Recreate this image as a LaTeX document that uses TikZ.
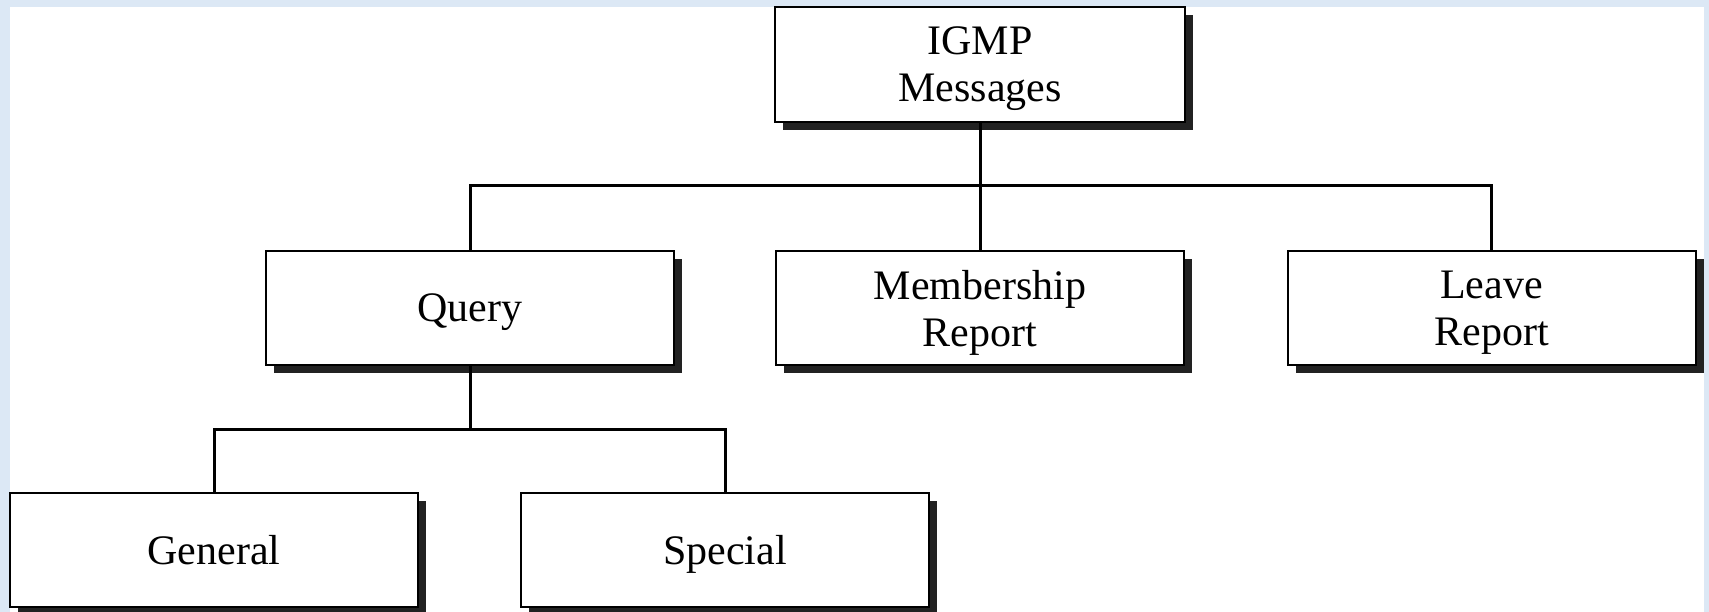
\documentclass[tikz,border=0pt]{standalone}
\usepackage{fontspec}
\setmainfont{Liberation Serif}
\usetikzlibrary{shadows}
\definecolor{bgblue}{HTML}{DCE8F5}
\definecolor{shade}{HTML}{222222}
\tikzset{
  msgbox/.style={draw=black, line width=2pt, fill=white, rectangle,
    minimum width=408pt, minimum height=114pt, inner sep=0pt, align=center,
    text depth=0pt,
    font=\fontsize{42}{47}\selectfont,
    drop shadow={shadow xshift=8pt, shadow yshift=-8pt, opacity=1, fill=shade}},
  link/.style={line width=3pt, draw=black}
}
\begin{document}
\begin{tikzpicture}[x=1pt,y=-1pt]
\useasboundingbox (0,0) rectangle (1709,612);
\fill[bgblue] (0,0) rectangle (1709,612);
\fill[white] (10,7) rectangle (1704,612);
\node[msgbox, minimum width=410pt, minimum height=115pt, text depth=-6pt] (top) at (980,64.5) {IGMP\\Messages};
\node[msgbox, text depth=-4pt] (q) at (470,308) {Query};
\node[msgbox] (m) at (980,308) {Membership\\Report};
\node[msgbox] (l) at (1491.5,308) {Leave\\Report};
\node[msgbox] (g) at (214,550) {General};
\node[msgbox] (s) at (725,550) {Special};
\coordinate (j1) at (980,186);
\coordinate (j2) at (470,429);
\draw[link] (top.south) -- (m.north);
\draw[link] (q.north) -- (q.north |- j1) -- (l.north |- j1) -- (l.north);
\draw[link] (q.south) -- (j2);
\draw[link] (g.north) -- (g.north |- j2) -- (s.north |- j2) -- (s.north);
\end{tikzpicture}
\end{document}
